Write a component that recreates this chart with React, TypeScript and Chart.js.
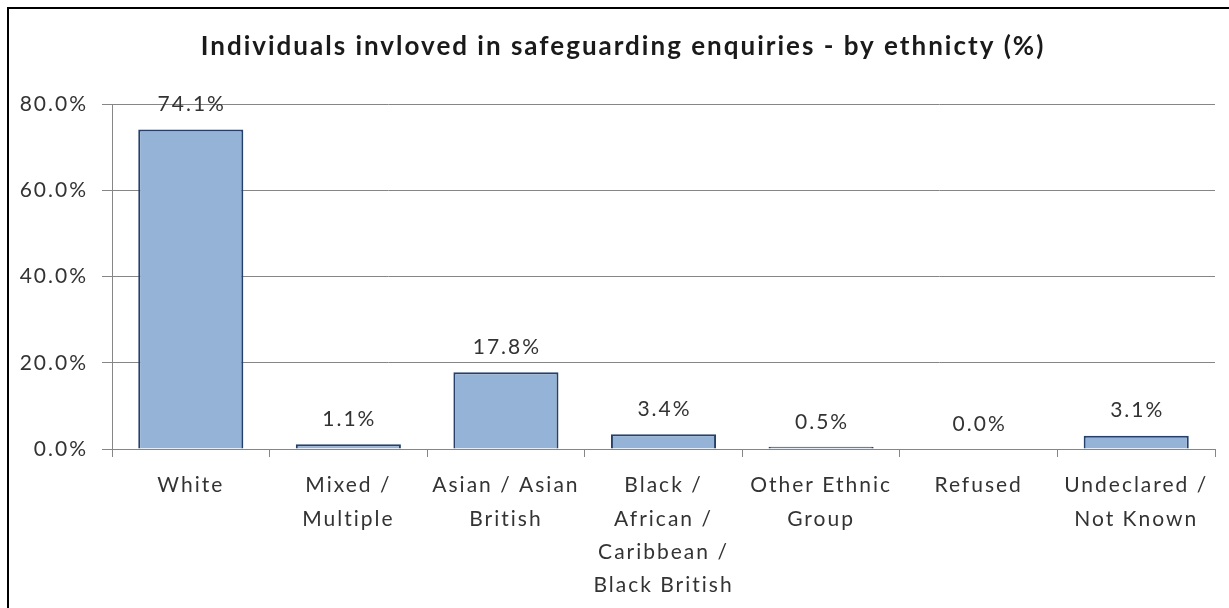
import React, { useEffect, useRef } from "react";
import { Chart, registerables } from "chart.js";

Chart.register(...registerables);

const TITLE = "Individuals invloved in safeguarding enquiries - by ethnicty (%)";
const categories: string[][] = [
  ["White"],
  ["Mixed /", "Multiple"],
  ["Asian / Asian", "British"],
  ["Black /", "African /", "Caribbean /", "Black British"],
  ["Other Ethnic", "Group"],
  ["Refused"],
  ["Undeclared /", "Not Known"],
];
const values: number[] = [74.1, 1.1, 17.8, 3.4, 0.5, 0.0, 3.1];
const yTicks: number[] = [0, 20, 40, 60, 80];

const FONT = "Lato, 'Open Sans', sans-serif";
const SPACING = "2px";

const framePlugin = {
  id: "frame",
  beforeDraw(chart: any) {
    const { ctx, width, height } = chart;
    ctx.save();
    ctx.fillStyle = "#ffffff";
    ctx.fillRect(0, 0, width, height);
    ctx.strokeStyle = "#000000";
    ctx.lineWidth = 2;
    ctx.strokeRect(8, 8, width + 20, height + 20);
    ctx.restore();
    ctx.letterSpacing = SPACING;
  },
  afterDraw(chart: any) {
    chart.ctx.letterSpacing = "0px";
  },
};

const titlePlugin = {
  id: "customTitle",
  afterDraw(chart: any) {
    const { ctx } = chart;
    ctx.save();
    ctx.letterSpacing = SPACING;
    ctx.font = `bold 26px ${FONT}`;
    ctx.fillStyle = "#1a1a1a";
    ctx.textAlign = "center";
    ctx.textBaseline = "middle";
    ctx.fillText(TITLE, 623, 47);
    ctx.restore();
  },
};

const labelPlugin = {
  id: "barLabels",
  afterDatasetsDraw(chart: any) {
    const { ctx } = chart;
    const meta = chart.getDatasetMeta(0);
    ctx.save();
    ctx.letterSpacing = SPACING;
    ctx.font = `21px ${FONT}`;
    ctx.fillStyle = "#333333";
    ctx.textAlign = "center";
    ctx.textBaseline = "middle";
    meta.data.forEach((bar: any, i: number) => {
      ctx.fillText(values[i].toFixed(1) + "%", bar.x + 1, bar.y - 25);
    });
    ctx.restore();
  },
};

export default function App() {
  const ref = useRef<HTMLCanvasElement>(null);
  useEffect(() => {
    if (!ref.current) return;
    const chart = new Chart(ref.current, {
      type: "bar",
      data: {
        labels: categories,
        datasets: [
          {
            data: values,
            backgroundColor: "#95B3D7",
            borderColor: "#24406B",
            borderWidth: 2,
            borderSkipped: "bottom",
            categoryPercentage: 1,
            barPercentage: 0.667,
          },
        ],
      },
      options: {
        animation: false,
        responsive: false,
        maintainAspectRatio: false,
        layout: { padding: { left: 0, right: 14, top: 104, bottom: 0 } },
        plugins: {
          legend: { display: false },
          title: { display: false },
          tooltip: { enabled: false },
        },
        scales: {
          x: {
            grid: {
              display: true,
              drawOnChartArea: false,
              drawTicks: true,
              tickLength: 8,
              color: "#868686",
              offset: true,
            },
            border: { display: true, color: "#868686", width: 1 },
            ticks: {
              font: { family: FONT, size: 21, lineHeight: 1.585 },
              color: "#333333",
              padding: 12,
              maxRotation: 0,
              autoSkip: false,
            },
            afterFit(scale: any) {
              scale.height = 159;
            },
          },
          y: {
            min: 0,
            max: 80,
            afterBuildTicks(scale: any) {
              scale.ticks = yTicks.map((v) => ({ value: v }));
            },
            grid: {
              color: "#868686",
              tickLength: 10,
              drawTicks: true,
            },
            border: { display: true, color: "#868686", width: 1 },
            ticks: {
              font: { family: FONT, size: 21 },
              color: "#333333",
              padding: 14,
              callback: (v: any) => Number(v).toFixed(1) + "%",
            },
            afterFit(scale: any) {
              scale.width = 112;
            },
          },
        },
      },
      plugins: [framePlugin, titlePlugin, labelPlugin],
    });
    return () => chart.destroy();
  }, []);
  return (
    <div style={{ position: "fixed", left: 0, top: 0, width: 1229, height: 608 }}>
      <canvas ref={ref} width={1229} height={608} style={{ display: "block" }} />
    </div>
  );
}
